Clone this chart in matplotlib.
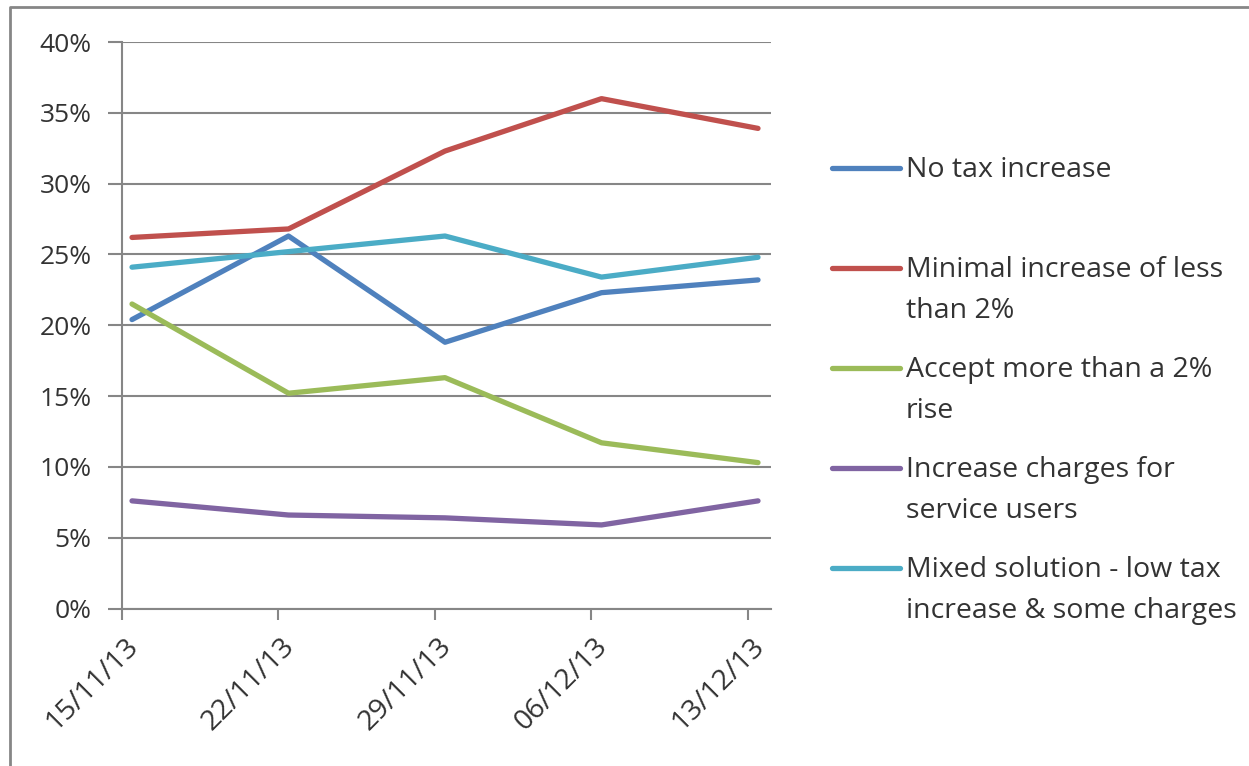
import numpy as np
import matplotlib
matplotlib.use("Agg")
import matplotlib.pyplot as plt
from matplotlib.lines import Line2D
from matplotlib.ticker import FuncFormatter
from matplotlib.transforms import ScaledTranslation

# survey dates and share of responses (%) per option
dates = ['15/11/13', '22/11/13', '29/11/13', '06/12/13', '13/12/13']
no_tax = [20.4, 26.3, 18.8, 22.3, 23.2]
minimal = [26.2, 26.8, 32.3, 36.0, 33.9]
accept_more = [21.5, 15.2, 16.3, 11.7, 10.3]
charges = [7.6, 6.6, 6.4, 5.9, 7.6]
mixed = [24.1, 25.2, 26.3, 23.4, 24.8]

labels = ['No tax increase',
          'Minimal increase of less\nthan 2%',
          'Accept more than a 2%\nrise',
          'Increase charges for\nservice users',
          'Mixed solution - low tax\nincrease & some charges']
colors = ['#4F81BD', '#C0504D', '#9BBB59', '#8064A2', '#4BACC6']
series = [no_tax, minimal, accept_more, charges, mixed]

plt.rcParams['font.family'] = ['Open Sans', 'DejaVu Sans']
grey = '#868686'
txt = '#333333'

fig = plt.figure(figsize=(12.49, 7.66), dpi=100)
ax = fig.add_axes([122/1249, 1-608.5/766, (771-122)/1249, (608.5-42)/766])

x = np.arange(len(dates))
for vals, c in zip(series, colors):
    ax.plot(x, vals, color=c, lw=3.8, solid_capstyle='round', solid_joinstyle='round', zorder=3)

off = 0.064
ax.set_xlim(-off, 4.083)
ax.set_ylim(0, 40)
ax.set_yticks(np.arange(0, 41, 5))
ax.yaxis.set_major_formatter(FuncFormatter(lambda v, p: '{:.0f}%'.format(v)))
ax.set_xticks(x - off)
ax.set_xticklabels(dates, rotation=45, ha='right', va='center', rotation_mode='anchor')
ax.grid(axis='y', color=grey, lw=1.5, zorder=1)
for s in ['top', 'right']:
    ax.spines[s].set_visible(False)
for s in ['left', 'bottom']:
    ax.spines[s].set_color(grey)
    ax.spines[s].set_linewidth(1.5)
ax.tick_params(axis='both', color=grey, width=1.5, labelcolor=txt)
ax.tick_params(axis='y', length=10, pad=12, labelsize=19)
ax.tick_params(axis='x', length=8, pad=16, labelsize=20.5)
shift = ScaledTranslation(12/100, 0, fig.dpi_scale_trans)
for lab in ax.get_xticklabels():
    lab.set_transform(lab.get_transform() + shift)

# legend drawn by hand to mimic the spreadsheet layout
for i, (lab, c) in enumerate(zip(labels, colors)):
    yy = 1 - (168 + 100*i)/766
    fig.add_artist(Line2D([832/1249, 900/1249], [yy, yy], color=c, lw=3.8,
                          solid_capstyle='round', transform=fig.transFigure))
    fig.text(906/1249, yy + 12/766, lab, fontsize=20.5, color=txt, va='top', ha='left',
             linespacing=1.6, transform=fig.transFigure)

# outer border (top and left only visible)
fig.add_artist(Line2D([10/1249, 10/1249, 1.0], [0.0, 1-7/766, 1-7/766], color=grey, lw=2,
                      transform=fig.transFigure))

fig.savefig('out.png', dpi=100)
